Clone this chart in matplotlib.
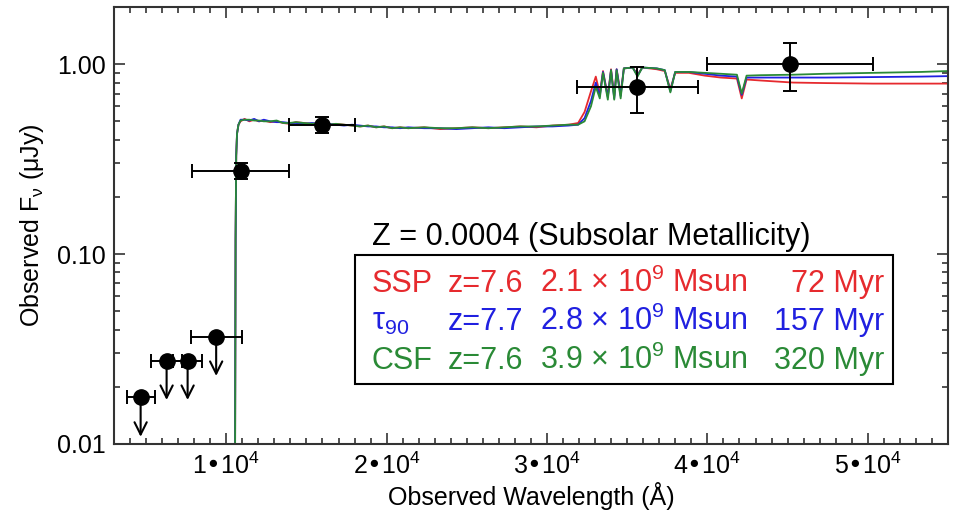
import matplotlib
matplotlib.use("Agg")
import matplotlib.pyplot as plt
from matplotlib.patches import Rectangle
from matplotlib.ticker import FixedLocator, MultipleLocator, NullFormatter, LogLocator

plt.rcParams["font.family"] = ["Liberation Sans", "DejaVu Sans"]

# Photometry: detections (with 1-sigma errors) and upper limits
det_wave = [10900, 15970, 35640, 45140]
det_xerr = [3030, 2030, 3750, 5160]
det_flux = [0.275, 0.48, 0.76, 1.00]
det_err_lo = [0.028, 0.045, 0.206, 0.28]
det_err_hi = [0.028, 0.048, 0.205, 0.29]

lim_wave = [4660, 6280, 7590, 9370]
lim_xerr = [875, 950, 900, 1600]
lim_flux = [0.0176, 0.0275, 0.0275, 0.0368]

# Best-fit model spectra (observed frame, uJy)
wave_model = [
    3000, 10490, 10540, 10580, 10620, 10670, 10760, 10890, 11140, 11440,
    11740, 12040, 12340, 12740, 13140, 13540, 13940, 14340, 14840, 15340,
    15840, 16340, 16840, 17340, 17840, 18340, 18840, 19340, 19840, 20340,
    20840, 21340, 22340, 23340, 24340, 25340, 26340, 27340, 28340, 29340,
    30340, 31340, 31940, 32340, 32740, 33040, 33290, 33490, 33790, 33990,
    34190, 34340, 34590, 34790, 35340, 35640, 35940, 36840, 37340, 37690,
    37990, 38840, 39840, 40840, 41840, 42140, 42440, 43340, 45340, 47340,
    50340, 53340, 55000,
]
flux_ssp = [
    1e-4, 1e-4, 0.004, 0.12, 0.33, 0.43, 0.48, 0.50, 0.515, 0.50,
    0.51, 0.50, 0.505, 0.495, 0.50, 0.49, 0.485, 0.495, 0.49, 0.485,
    0.49, 0.48, 0.485, 0.48, 0.475, 0.47, 0.475, 0.465, 0.47, 0.46,
    0.465, 0.46, 0.465, 0.455, 0.46, 0.465, 0.46, 0.465, 0.47, 0.465,
    0.475, 0.48, 0.49, 0.56, 0.72, 0.86, 0.70, 0.92, 0.68, 0.94,
    0.68, 0.94, 0.70, 0.95, 0.96, 0.88, 0.96, 0.94, 0.92, 0.74,
    0.90, 0.90, 0.87, 0.85, 0.84, 0.66, 0.83, 0.82, 0.80, 0.795,
    0.79, 0.79, 0.79,
]
flux_tau = [
    1e-4, 1e-4, 0.004, 0.12, 0.33, 0.43, 0.48, 0.51, 0.51, 0.505,
    0.515, 0.50, 0.51, 0.50, 0.495, 0.495, 0.49, 0.49, 0.485, 0.49,
    0.485, 0.485, 0.48, 0.475, 0.48, 0.475, 0.47, 0.47, 0.465, 0.465,
    0.46, 0.465, 0.46, 0.46, 0.455, 0.46, 0.465, 0.46, 0.465, 0.47,
    0.47, 0.475, 0.48, 0.52, 0.64, 0.80, 0.68, 0.91, 0.67, 0.93,
    0.66, 0.94, 0.68, 0.95, 0.96, 0.87, 0.96, 0.95, 0.93, 0.72,
    0.91, 0.91, 0.89, 0.87, 0.86, 0.69, 0.85, 0.85, 0.85, 0.85,
    0.855, 0.86, 0.865,
]
flux_csf = [
    1e-4, 1e-4, 0.004, 0.12, 0.33, 0.43, 0.48, 0.505, 0.51, 0.51,
    0.505, 0.505, 0.50, 0.50, 0.505, 0.49, 0.49, 0.495, 0.49, 0.485,
    0.49, 0.48, 0.485, 0.48, 0.475, 0.47, 0.475, 0.465, 0.47, 0.46,
    0.465, 0.46, 0.465, 0.46, 0.46, 0.465, 0.46, 0.465, 0.47, 0.47,
    0.475, 0.48, 0.48, 0.50, 0.60, 0.76, 0.66, 0.90, 0.65, 0.93,
    0.65, 0.93, 0.66, 0.95, 0.96, 0.86, 0.96, 0.95, 0.93, 0.71,
    0.91, 0.91, 0.90, 0.89, 0.88, 0.70, 0.87, 0.875, 0.88, 0.89,
    0.90, 0.91, 0.92,
]

# Fit summary shown in the inset box
model_names = ["SSP", r"$\mathregular{τ_{90}}$", "CSF"]
model_z = ["z=7.6", "z=7.7", "z=7.6"]
model_mass = ["2.1", "2.8", "3.9"]
model_age = [72, 157, 320]

RED = "#e62a2e"
BLUE = "#2020e0"
GREEN = "#2a8a36"
colors = [RED, BLUE, GREEN]

fig = plt.figure(figsize=(9.54, 5.14), dpi=100)
ax = fig.add_axes([0.1195, 0.1362, 0.8742, 0.8502])

for flux, c in zip([flux_ssp, flux_tau, flux_csf], colors):
    ax.plot(wave_model, flux, color=c, lw=1.3, zorder=2)

ax.errorbar(det_wave, det_flux, xerr=det_xerr, yerr=[det_err_lo, det_err_hi],
            fmt="o", color="black", ms=11, capsize=5, elinewidth=1.4,
            capthick=1.4, zorder=4)
ax.errorbar(lim_wave, lim_flux, xerr=lim_xerr, fmt="o", color="black",
            ms=11, capsize=5, elinewidth=1.4, capthick=1.4, zorder=4)
for w, f in zip(lim_wave, lim_flux):
    ax.annotate("", xy=(w, f * 0.62), xytext=(w, f),
                arrowprops=dict(arrowstyle="->", lw=1.5, color="black",
                                mutation_scale=22, shrinkA=0, shrinkB=0),
                zorder=4)

ax.set_yscale("log")
ax.set_xlim(3000, 55000)
ax.set_ylim(0.01, 2.0)

ax.xaxis.set_major_locator(FixedLocator([1e4, 2e4, 3e4, 4e4, 5e4]))
ax.set_xticklabels([r"$\mathregular{%d•10^{4}}$" % i for i in range(1, 6)])
ax.xaxis.set_minor_locator(MultipleLocator(1000))
ax.yaxis.set_major_locator(FixedLocator([0.01, 0.1, 1.0]))
ax.set_yticklabels(["0.01", "0.10", "1.00"])
ax.yaxis.set_minor_locator(LogLocator(base=10, subs=range(2, 10)))
ax.yaxis.set_minor_formatter(NullFormatter())

ax.tick_params(which="both", direction="in", top=True, right=True,
               width=1.2, color="#333333")
ax.tick_params(which="major", length=8, labelsize=18, pad=6)
ax.tick_params(which="minor", length=4)
for s in ax.spines.values():
    s.set_linewidth(1.5)
    s.set_color("#333333")

ax.set_xlabel("Observed Wavelength (Å)", fontsize=18, labelpad=2)
ax.set_ylabel(r"Observed F$_\mathregular{ν}$ (μJy)", fontsize=18, labelpad=8)

# Inset summary
ax.text(0.309, 0.455, "Z = 0.0004 (Subsolar Metallicity)", transform=ax.transAxes,
        fontsize=22, color="black", va="baseline", ha="left")
ax.add_patch(Rectangle((0.289, 0.137), 0.645, 0.295, transform=ax.transAxes,
                       fill=False, lw=1.5, edgecolor="black", zorder=5))
row_y = [0.348, 0.261, 0.172]
for i in range(3):
    kw = dict(transform=ax.transAxes, fontsize=22, color=colors[i], va="baseline")
    ax.text(0.309, row_y[i], model_names[i], ha="left", **kw)
    ax.text(0.400, row_y[i], model_z[i], ha="left", **kw)
    ax.text(0.511, row_y[i], model_mass[i] + r" × $\mathregular{10^{9}}$ Msun", ha="left", **kw)
    ax.text(0.924, row_y[i], "%d Myr" % model_age[i], ha="right", **kw)

fig.savefig("out.png", dpi=100)
